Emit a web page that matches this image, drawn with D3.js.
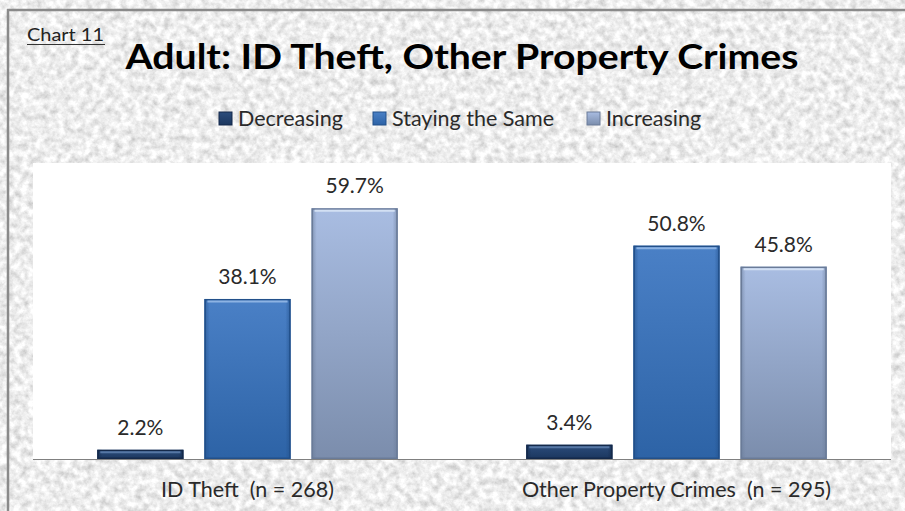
<!DOCTYPE html>
<html><head><meta charset="utf-8">
<script src="https://cdn.jsdelivr.net/npm/d3@7"></script>
<style>html,body{margin:0;padding:0;background:#fff;}svg{display:block;}</style>
</head><body>
<svg id="chart" width="905" height="511"></svg>
<script>
const categories = ["ID Theft  (n = 268)", "Other Property Crimes  (n = 295)"];
const seriesNames = ["Decreasing", "Staying the Same", "Increasing"];
const decreasing = [2.2, 3.4];
const stayingSame = [38.1, 50.8];
const increasing = [59.7, 45.8];
const titleText = "Adult: ID Theft, Other Property Crimes";
const chartLabel = "Chart 11";

const seriesValues = [decreasing, stayingSame, increasing];
const colors = [
  {top:"#2c4d7c", bot:"#1b365e", edge:"#14294a", hi:"#5677a5"},
  {top:"#4a80c6", bot:"#2d63a6", edge:"#22508a", hi:"#8db3e3"},
  {top:"#a9bde2", bot:"#7b8dac", edge:"#6a7b98", hi:"#d3e0f3"}
];

const svg = d3.select("#chart");
const W = 905, H = 511;
const defs = svg.append("defs");

// granite texture
const f = defs.append("filter").attr("id","granite").attr("x",0).attr("y",0).attr("width","100%").attr("height","100%");
f.append("feTurbulence").attr("type","fractalNoise").attr("baseFrequency","0.14").attr("numOctaves",4).attr("seed",7).attr("result","n");
f.append("feColorMatrix").attr("in","n").attr("type","matrix")
 .attr("values","0.7 0 0 0 0.5  0.7 0 0 0 0.5  0.7 0 0 0 0.5  0 0 0 0 1");

colors.forEach((c,i)=>{
  const g = defs.append("linearGradient").attr("id","g"+i).attr("x1",0).attr("y1",0).attr("x2",0).attr("y2",1);
  g.append("stop").attr("offset","0%").attr("stop-color",c.top);
  g.append("stop").attr("offset","100%").attr("stop-color",c.bot);
  const h = defs.append("linearGradient").attr("id","h"+i).attr("x1",0).attr("y1",0).attr("x2",1).attr("y2",0);
  h.append("stop").attr("offset","0%").attr("stop-color",c.edge).attr("stop-opacity",0.6);
  h.append("stop").attr("offset","6%").attr("stop-color",c.edge).attr("stop-opacity",0);
  h.append("stop").attr("offset","94%").attr("stop-color",c.edge).attr("stop-opacity",0);
  h.append("stop").attr("offset","100%").attr("stop-color",c.edge).attr("stop-opacity",0.6);
});

svg.append("rect").attr("width",W).attr("height",H).attr("fill","#ddd").attr("filter","url(#granite)");
// frame
svg.append("path").attr("d","M8,511 L8,10 L905,10").attr("fill","none").attr("stroke","#8a8a8a").attr("stroke-width",2.5);

const font = "Lato, 'Open Sans', sans-serif";
const txt = "#2a2a2a";

// Chart label
svg.append("text").attr("x",27).attr("y",41).attr("font-family",font).attr("font-size",17).attr("fill","#222")
  .attr("textLength",77).attr("lengthAdjust","spacingAndGlyphs").text(chartLabel);
svg.append("line").attr("x1",27).attr("x2",105).attr("y1",44.5).attr("y2",44.5).attr("stroke","#333").attr("stroke-width",1);

// title
svg.append("text").attr("x",462).attr("y",69).attr("text-anchor","middle").attr("font-family",font)
  .attr("font-weight","bold").attr("font-size",35).attr("fill","#000")
  .attr("textLength",673).attr("lengthAdjust","spacingAndGlyphs").text(titleText);

// plot area
const plot = {l:33, r:891, t:163, b:459};
svg.append("rect").attr("x",plot.l).attr("y",plot.t).attr("width",plot.r-plot.l).attr("height",plot.b-plot.t).attr("fill","#fff");

const x0 = d3.scaleBand().domain(categories).range([plot.l, plot.r]).paddingInner(0).paddingOuter(0);
const x1 = d3.scaleBand().domain(seriesNames).range([0, x0.bandwidth()]).paddingInner(0.196).paddingOuter(0.6);
const y = d3.scaleLinear().domain([0,70]).range([plot.b, 165]);

const data = [];
categories.forEach((c,ci)=>seriesNames.forEach((s,si)=>data.push({c, s, si, v: seriesValues[si][ci]})));

const bars = svg.append("g").selectAll("g").data(data).join("g")
  .attr("transform", d=>`translate(${x0(d.c)+x1(d.s)},0)`);
bars.append("rect").attr("x",0).attr("y",d=>y(d.v)).attr("width",x1.bandwidth()).attr("height",d=>y(0)-y(d.v))
  .attr("fill",d=>`url(#g${d.si})`);
bars.append("rect").attr("x",0).attr("y",d=>y(d.v)).attr("width",x1.bandwidth()).attr("height",d=>y(0)-y(d.v))
  .attr("fill",d=>`url(#h${d.si})`);
bars.append("rect").attr("x",0.75).attr("y",d=>y(d.v)+0.75).attr("width",x1.bandwidth()-1.5).attr("height",d=>Math.max(0,y(0)-y(d.v)-1.5))
  .attr("fill","none").attr("stroke",d=>colors[d.si].edge).attr("stroke-width",1.5);
bars.append("line").attr("x1",3).attr("x2",x1.bandwidth()-3).attr("y1",d=>y(d.v)+2.5).attr("y2",d=>y(d.v)+2.5)
  .attr("stroke",d=>colors[d.si].hi).attr("stroke-width",2);

// value labels
svg.append("g").selectAll("text").data(data).join("text")
  .attr("x",d=>x0(d.c)+x1(d.s)+x1.bandwidth()/2).attr("y",d=>y(d.v)-15)
  .attr("text-anchor","middle").attr("font-family",font).attr("font-size",21).attr("fill",txt)
  .text(d=>d.v.toFixed(1)+"%");

// x axis
const xAxis = svg.append("g").attr("transform",`translate(0,${plot.b})`).call(d3.axisBottom(x0).tickSize(0).tickPadding(0));
xAxis.select(".domain").attr("stroke","#808080").attr("stroke-width",1.2).attr("d",`M${plot.l},0.5H${plot.r}`);
xAxis.selectAll(".tick text").attr("font-family",font).attr("font-size",21.5).attr("fill",txt).attr("dy",0).attr("y",38)
  .style("white-space","pre").attr("xml:space","preserve");

// legend
const legendX = [219, 373, 587];
const leg = svg.append("g").selectAll("g").data(seriesNames).join("g").attr("transform",(d,i)=>`translate(${legendX[i]},112)`);
leg.append("rect").attr("width",13).attr("height",13).attr("fill",(d,i)=>`url(#g${i})`).attr("stroke",(d,i)=>colors[i].edge).attr("stroke-width",1);
leg.append("text").attr("x",19).attr("y",14).attr("font-family",font).attr("font-size",21.5).attr("fill",txt).text(d=>d);
</script>
</body></html>
